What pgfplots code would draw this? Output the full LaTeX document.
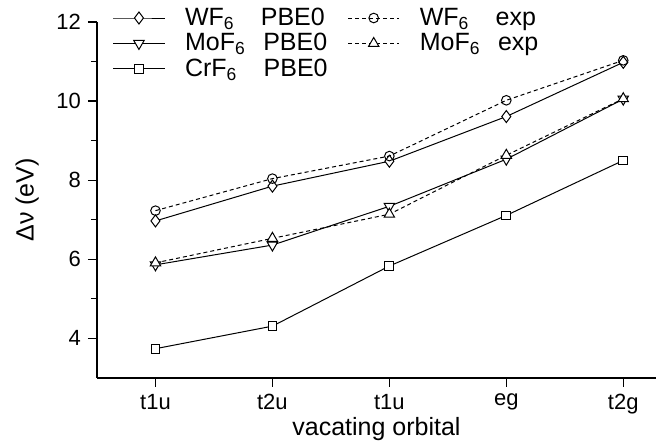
\documentclass[border=0pt]{standalone}
\usepackage{pgfplots}
\pgfplotsset{compat=1.18}
\usepackage{fontspec}
\setmainfont{Liberation Sans}
\usetikzlibrary{calc}
\begin{document}
\begin{tikzpicture}
\begin{axis}[
  scale only axis,
  width=279.5pt, height=178pt,
  xmin=-0.5, xmax=4.28,
  ymin=3, ymax=12,
  axis x line=bottom, axis y line=left,
  axis line style={-, line width=0.7pt},
  xtick={0,1,2,3,4},
  xticklabels={t1u,t2u,t1u,eg,t2g},
  ytick={4,6,8,10,12},
  minor ytick={5,7,9,11},
  tick align=outside,
  major tick length=4.5pt,
  minor tick length=3pt,
  tick style={black, line width=0.6pt},
  /pgf/number format/assume math mode=true,
  ticklabel style={font=\fontsize{11}{12}\selectfont},
  xlabel={vacating orbital},
  ylabel={Δν (eV)},
  label style={font=\fontsize{12.5}{14}\selectfont},
  xlabel style={yshift=5pt},
  ylabel style={yshift=2pt},
  legend columns=2,
  legend cell align=left,
  legend style={draw=none, fill=none, at={(axis cs:-0.368,12.42)}, anchor=north west,
    font=\fontsize{12.5}{14}\selectfont, row sep=0.5pt, column sep=9pt, inner sep=0pt,
    nodes={inner xsep=1pt, inner ysep=1pt}},
  legend image code/.code={\draw[mark repeat=2,mark phase=2] plot coordinates {(0cm,0cm)(0.45cm,0cm)(0.9cm,0cm)};},
  every axis plot/.append style={black, line width=0.5pt, mark size=2.4pt, mark options={solid, fill=white, line width=0.5pt}},
]
\addplot[mark=diamond*, mark size=3pt] coordinates {(0,6.97) (1,7.85) (2,8.48) (3,9.61) (4,10.98)};
\addlegendentry{WF\textsubscript{6}\hspace{1.05em}PBE0}
\addplot[dashed, dash pattern=on 2pt off 1.5pt, mark=o] coordinates {(0,7.23) (1,8.04) (2,8.61) (3,10.02) (4,11.03)};
\addlegendentry{WF\textsubscript{6}\hspace{1.05em}exp}
\addplot[mark=triangle*, mark size=3pt, mark options={solid, fill=white, line width=0.5pt, rotate=180}] coordinates {(0,5.86) (1,6.36) (2,7.34) (3,8.53) (4,10.05)};
\addlegendentry{MoF\textsubscript{6}\hspace{0.7em}PBE0}
\addplot[dashed, dash pattern=on 2pt off 1.5pt, mark=triangle*, mark size=3pt] coordinates {(0,5.91) (1,6.53) (2,7.14) (3,8.63) (4,10.06)};
\addlegendentry{MoF\textsubscript{6}\hspace{0.7em}exp}
\addplot[mark=square*, mark size=2.2pt] coordinates {(0,3.74) (1,4.31) (2,5.83) (3,7.11) (4,8.50)};
\addlegendentry{CrF\textsubscript{6}\hspace{1.05em}PBE0}
\end{axis}
\pgfresetboundingbox
\useasboundingbox ($(current axis.south west)+(-48.5pt,-32.5pt)$) rectangle ($(current axis.north east)+(0pt,11pt)$);
\end{tikzpicture}
\end{document}
